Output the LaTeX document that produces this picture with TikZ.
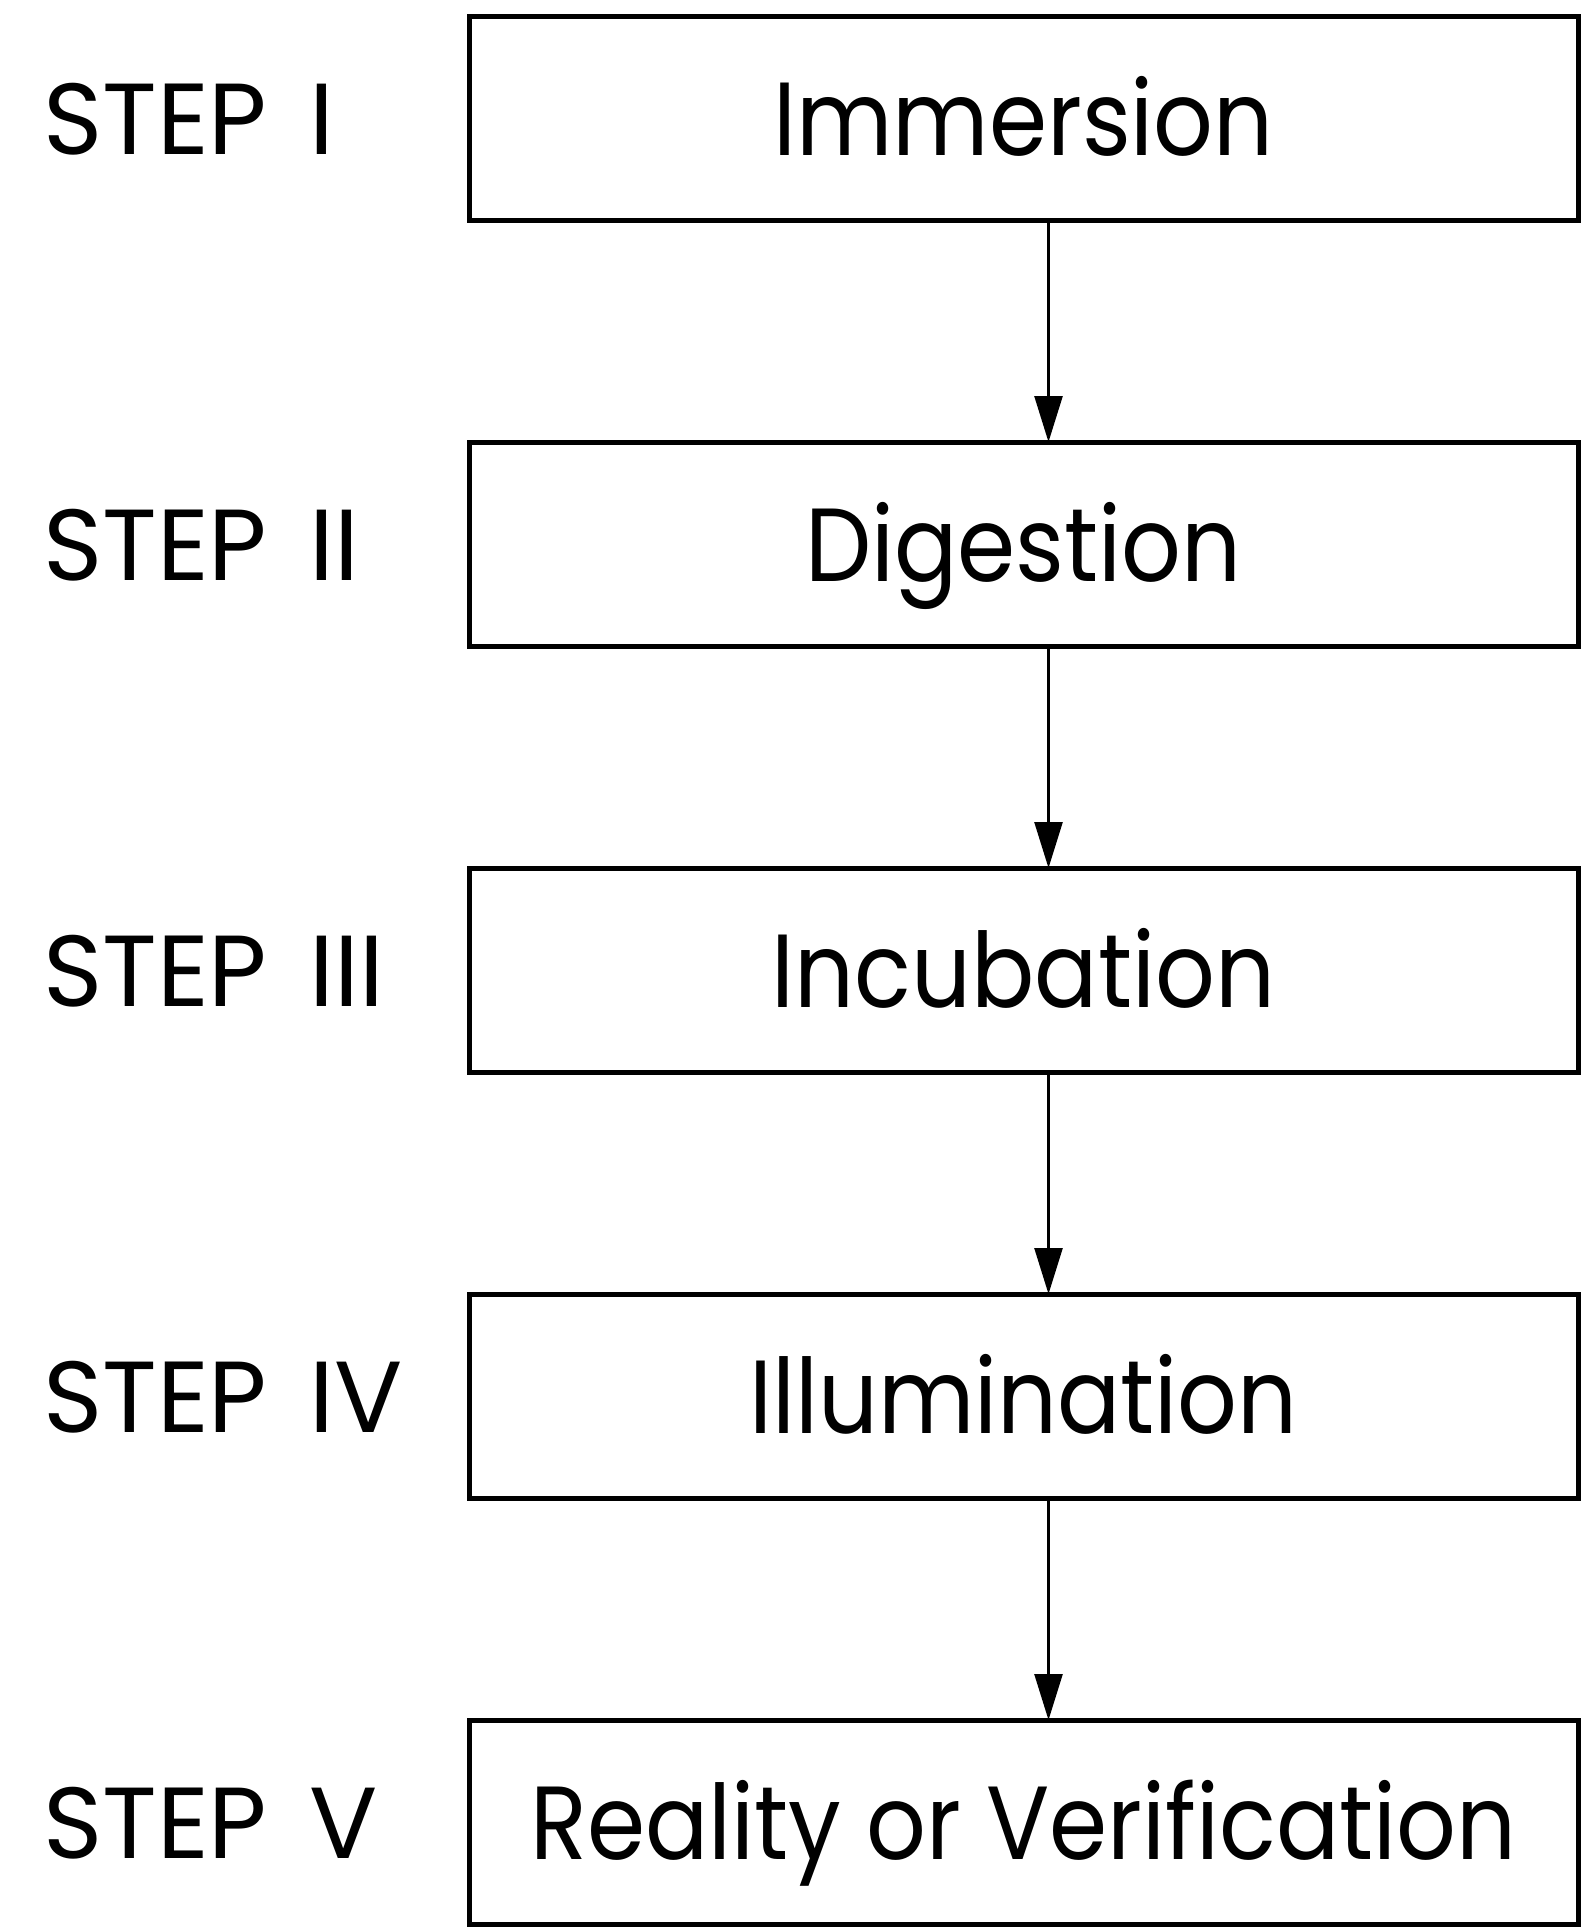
\documentclass[tikz,border=0pt]{standalone}
\usepackage{fontspec}
\setmainfont[FakeStretch=0.9]{Poppins}
\newfontfamily\lblfont{Poppins}
\usetikzlibrary{arrows.meta,positioning}

\begin{document}
\begin{tikzpicture}[x=1pt,y=-1pt, node distance=222pt,
      box/.style={draw,line width=5pt,minimum width=1109pt,minimum height=204pt,
        inner sep=0pt,outer sep=0pt,text height=74pt,text depth=0pt,
        font=\fontsize{104}{110}\selectfont},
      steplbl/.style={anchor=west,inner sep=0pt,text height=72pt,text depth=0pt,
        font={\lblfont\fontsize{101}{110}\selectfont\spaceskip 0.42em\relax}},
      flow/.style={-{Triangle[length=46pt,width=28pt]},line width=2.5pt}]
    \useasboundingbox (0,0) rectangle (1589,1930);
    \node[box] (imm) at (1023.5,118) {Immersion};
    \node[box,below=of imm] (dig) {Digestion};
    \node[box,below=of dig] (inc) {Incubation};
    \node[box,below=of inc] (ill) {Illumination};
    \node[box,below=of ill] (ver) {Reality or Verification};
    \coordinate (lft) at (43,0);
    \node[steplbl] (s1) at (lft |- imm) {STEP I};
    \node[steplbl] (s2) at (lft |- dig) {STEP II};
    \node[steplbl] (s3) at (lft |- inc) {STEP III};
    \node[steplbl] (s4) at (lft |- ill) {STEP IV};
    \node[steplbl] (s5) at (lft |- ver) {STEP V};
    \draw[flow] ([xshift=25pt]imm.south) -- ([xshift=25pt]dig.north);
    \draw[flow] ([xshift=25pt]dig.south) -- ([xshift=25pt]inc.north);
    \draw[flow] ([xshift=25pt]inc.south) -- ([xshift=25pt]ill.north);
    \draw[flow] ([xshift=25pt]ill.south) -- ([xshift=25pt]ver.north);
  \end{tikzpicture}
\end{document}
